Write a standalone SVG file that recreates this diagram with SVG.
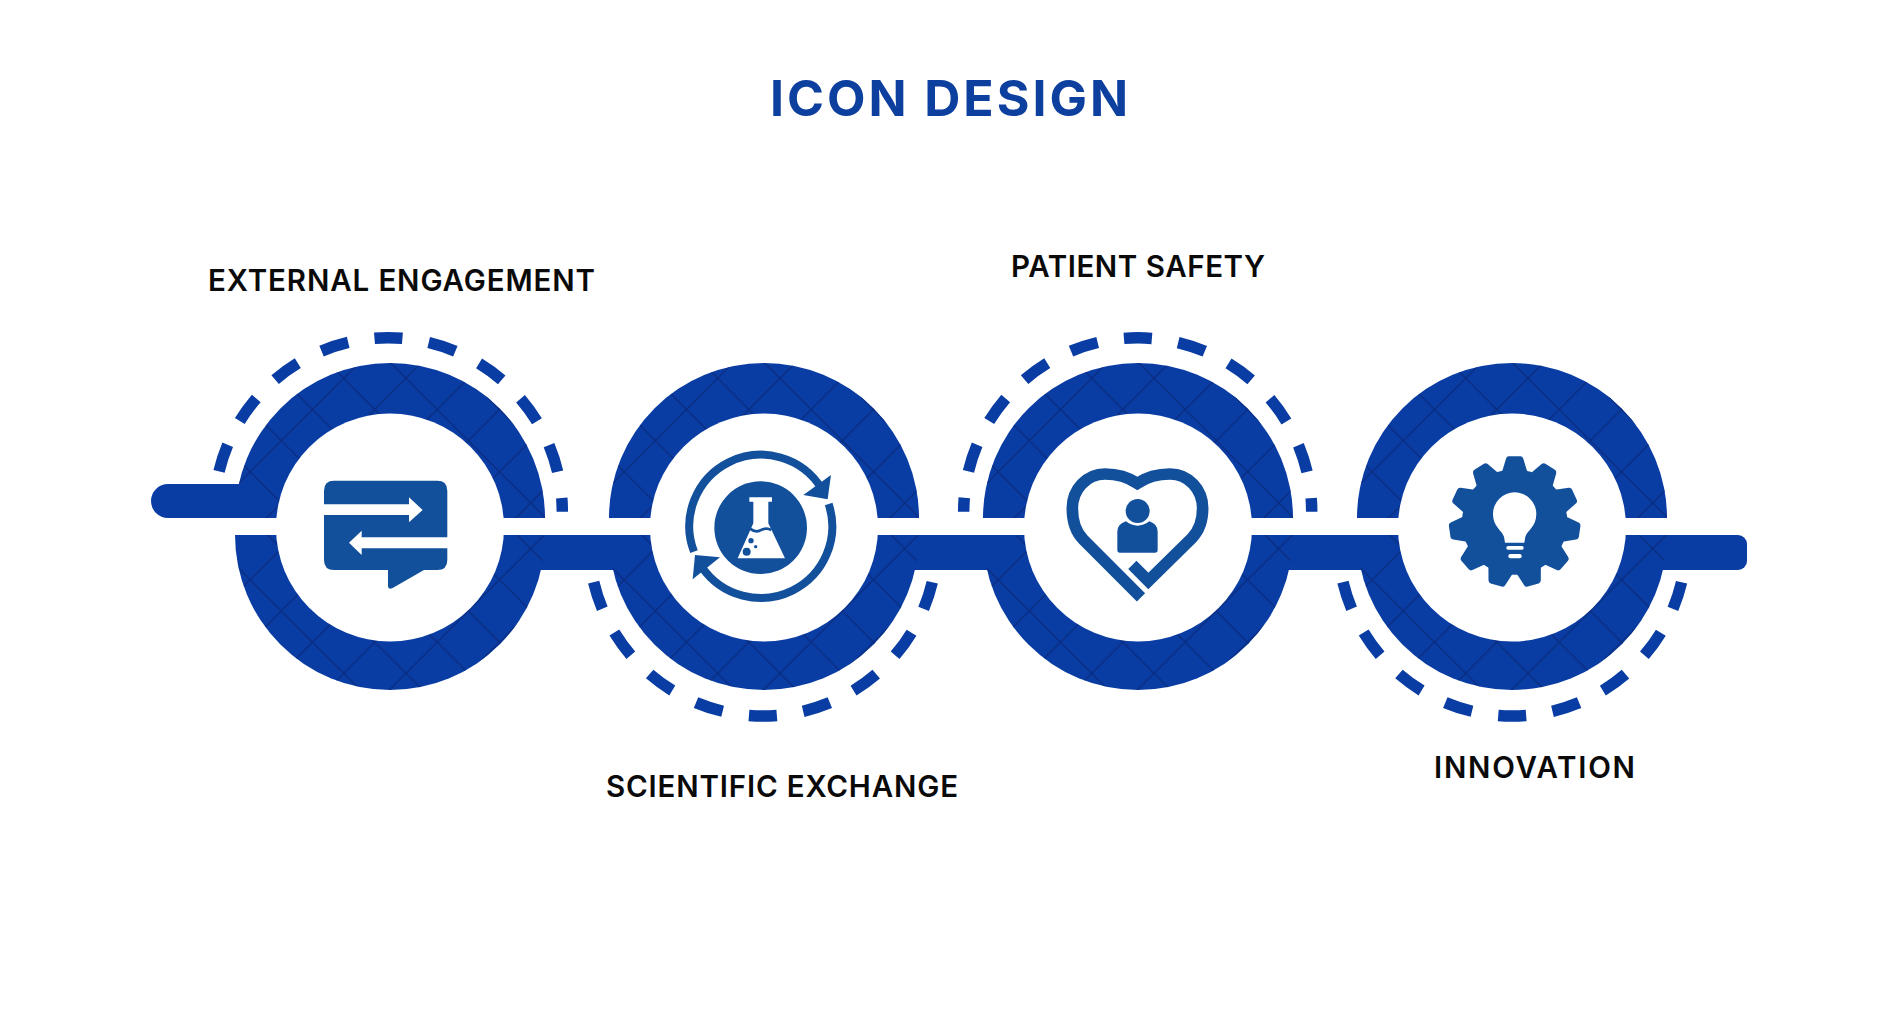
<svg xmlns="http://www.w3.org/2000/svg" width="1890" height="1022" viewBox="0 0 1890 1022">
<style>
text{font-family:Inter,"Liberation Sans",sans-serif;}
.title{font-size:50px;font-weight:700;fill:#0d3f9f;}
.lbl{font-size:29.5px;font-weight:600;fill:#0a0a0a;}
.ring{fill:#0a3da3;}
.hatchT{fill:url(#hT);}
.hatchB{fill:url(#hB);}
.dash{fill:none;stroke:#0a3da3;stroke-width:11.5;stroke-dasharray:28 26.66;stroke-dashoffset:14;}
.hole{fill:#fff;}
.ic{fill:#13509c;}
.icl{fill:none;stroke:#13509c;}
.w{fill:#fff;}
</style>
<defs>
<pattern id="hT" patternUnits="userSpaceOnUse" x="390" y="378.3" width="62.33" height="62.33">
<path d="M0 0L62.33 62.33M62.33 0L0 62.33" stroke="#092b80" stroke-width="1.3" fill="none"/>
</pattern>
<pattern id="hB" patternUnits="userSpaceOnUse" x="390" y="673.3" width="62.33" height="62.33">
<path d="M0 0L62.33 62.33M62.33 0L0 62.33" stroke="#092b80" stroke-width="1.3" fill="none"/>
</pattern>
<path id="top" d="M-155 518A155 155 0 0 1 155 518Z"/>
<path id="bot" d="M-155 535A155 155 0 0 0 155 535Z"/>
<path id="tooth" d="M-38 -150L-26 -190Q-24 -197 -17 -197H17Q24 -197 26 -190L38 -150Z"/>
</defs>
<rect width="1890" height="1022" fill="#fff"/>
<text class="title" x="770" y="116" textLength="358">ICON DESIGN</text>
<g id="connectors">
<path class="dash" d="M214.3 511.7A174 174 0 0 1 562.3 511.7"/>
<path class="dash" d="M937 542A174 174 0 0 1 589 542"/>
<path class="dash" d="M963.7 511.7A174 174 0 0 1 1311.7 511.7"/>
<path class="dash" d="M1686.3 542A174 174 0 0 1 1338.3 542"/>
<rect class="ring" x="151" y="484" width="150" height="34" rx="17"/>
<rect class="ring" x="390" y="535" width="1357" height="35" rx="9"/>
</g>
<g id="node-external">
<use href="#top" x="390" class="ring"/><use href="#bot" x="390" class="ring"/>
<use href="#top" x="390" class="hatchT"/><use href="#bot" x="390" class="hatchB"/>
<circle class="hole" cx="390" cy="527.5" r="114"/>
<g transform="translate(300 460) scale(.3333)">
<path class="ic" d="M102 62H412Q442 62 442 92V300Q442 330 412 330H372L278 384Q264 390 264 378V330H102Q72 330 72 300V92Q72 62 102 62Z"/>
<path class="w" d="M68 133H327V112L368 150L327 187V165H68Z"/>
<path class="w" d="M446 232H185V212L147 248L185 285V265H446Z"/>
</g>
<text class="lbl" x="208" y="291" textLength="387">EXTERNAL ENGAGEMENT</text>
</g>
<g id="node-scientific">
<use href="#top" x="764" class="ring"/><use href="#bot" x="764" class="ring"/>
<use href="#top" x="764" class="hatchT"/><use href="#bot" x="764" class="hatchB"/>
<circle class="hole" cx="764" cy="527.5" r="114"/>
<g transform="translate(670 440) scale(.3333)">
<circle class="ic" cx="272" cy="263" r="139"/>
<path class="w" d="M238 172H306V185H295V250L345 355H203L250 250V185H238Z"/>
<path d="M240 266Q258 280 274 270Q290 262 304 270" fill="none" stroke="#13509c" stroke-width="8"/>
<circle class="ic" cx="230" cy="335" r="12"/><circle class="ic" cx="243" cy="302" r="8"/><circle class="ic" cx="257" cy="320" r="5"/>
<path class="icl" stroke-width="24" d="M72 335A214.5 214.5 0 0 1 455 146"/>
<path class="icl" stroke-width="24" d="M476 192A214.5 214.5 0 0 1 95 380"/>
<path class="ic" d="M483 105L473 178L400 165Z"/>
<path class="ic" d="M75 345L150 352L68 418Z"/>
</g>
<text class="lbl" x="606" y="797" textLength="352">SCIENTIFIC EXCHANGE</text>
</g>
<g id="node-patient">
<use href="#top" x="1138" class="ring"/><use href="#bot" x="1138" class="ring"/>
<use href="#top" x="1138" class="hatchT"/><use href="#bot" x="1138" class="hatchB"/>
<circle class="hole" cx="1138" cy="527.5" r="114"/>
<g transform="translate(1050 450) scale(.3333)">
<path class="icl" stroke-width="35" stroke-linejoin="miter" d="M273 442L100 269C78 247 67 212 67 175C67 118 110 72 165 72C200 72 235 82 262 100C289 82 324 72 360 72C415 72 458 118 458 175C458 212 447 243 425 265L295 393L247 345"/>
<circle class="ic" cx="263" cy="183" r="36"/>
<path class="ic" d="M202 300V245Q202 222 228 214Q262 240 298 214Q323 222 323 245V300Q323 308 315 308H210Q202 308 202 300Z"/>
</g>
<text class="lbl" x="1011" y="277" textLength="254">PATIENT SAFETY</text>
</g>
<g id="node-innovation">
<use href="#top" x="1512" class="ring"/><use href="#bot" x="1512" class="ring"/>
<use href="#top" x="1512" class="hatchT"/><use href="#bot" x="1512" class="hatchB"/>
<circle class="hole" cx="1512" cy="527.5" r="114"/>
<g transform="translate(1430 440) scale(.3333)">
<g transform="translate(254 246)">
<circle class="ic" r="158"/>
<use href="#tooth" class="ic"/>
<use href="#tooth" class="ic" transform="rotate(32.73)"/>
<use href="#tooth" class="ic" transform="rotate(65.45)"/>
<use href="#tooth" class="ic" transform="rotate(98.18)"/>
<use href="#tooth" class="ic" transform="rotate(130.9)"/>
<use href="#tooth" class="ic" transform="rotate(163.64)"/>
<use href="#tooth" class="ic" transform="rotate(196.36)"/>
<use href="#tooth" class="ic" transform="rotate(229.09)"/>
<use href="#tooth" class="ic" transform="rotate(261.82)"/>
<use href="#tooth" class="ic" transform="rotate(294.55)"/>
<use href="#tooth" class="ic" transform="rotate(327.27)"/>
</g>
<path class="w" d="M225 308L222 290C215 270 189 260 189 222A65 65 0 0 1 319 222C319 260 293 270 286 290L283 308Z"/>
<rect class="w" x="229" y="318" width="52" height="11" rx="5"/>
<rect class="w" x="235" y="342" width="40" height="13" rx="6"/>
</g>
<text class="lbl" x="1434" y="778" textLength="201">INNOVATION</text>
</g>
</svg>
